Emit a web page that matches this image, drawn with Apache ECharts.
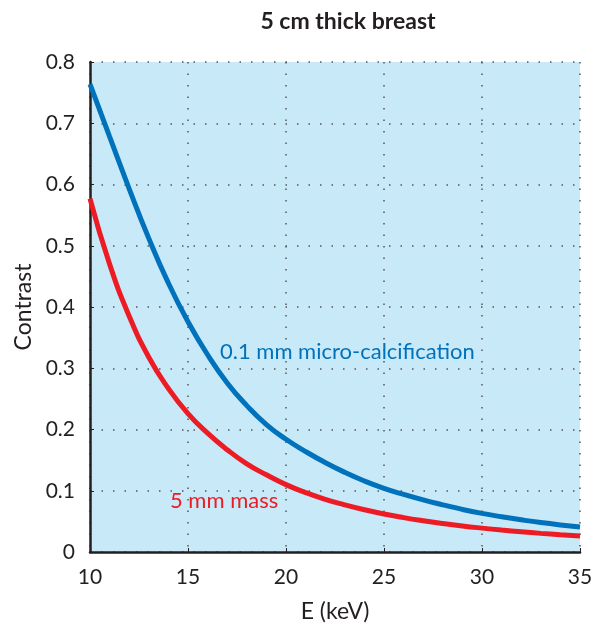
<!DOCTYPE html>
<html>
<head>
  <meta charset="utf-8">
  <title>5 cm thick breast</title>
  <script src="https://cdn.jsdelivr.net/npm/echarts@6/dist/echarts.min.js"></script>
  <style>
    body { margin: 0; padding: 0; background: #fff; }
    #main { width: 600px; height: 630px; }
  </style>
</head>
<body>
  <div id="main"></div>
  <script type="text/javascript">
    // photon energy (keV)
    var energy = [10, 11, 12, 13, 14, 15, 16, 17, 18, 19, 20, 21, 22, 23, 24, 25, 26, 27, 28, 29, 30, 31, 32, 33, 34, 35];
    // contrast
    var calcification = [0.764, 0.678, 0.593, 0.512, 0.439, 0.376, 0.322, 0.276, 0.239, 0.208, 0.184, 0.164, 0.146, 0.130, 0.116, 0.104, 0.094, 0.085, 0.077, 0.0695, 0.063, 0.0575, 0.0525, 0.048, 0.0442, 0.041];
    var mass = [0.577, 0.470, 0.385, 0.318, 0.267, 0.226, 0.194, 0.167, 0.144, 0.126, 0.110, 0.097, 0.086, 0.077, 0.069, 0.062, 0.0561, 0.051, 0.0465, 0.0425, 0.039, 0.0358, 0.033, 0.0304, 0.0281, 0.026];

    function pairs(ys) {
      var out = [];
      for (var i = 0; i < energy.length; i++) out.push([energy[i], ys[i]]);
      return out;
    }

    var font = 'Lato, "Open Sans", sans-serif';
    var ink = '#231f20';
    var chart = echarts.init(document.getElementById('main'));

    var option = {
      animation: false,
      title: {
        text: '5 cm thick breast',
        left: 343,
        top: 5,
        textAlign: 'center',
        textStyle: { fontFamily: font, fontSize: 23, fontWeight: 'bold', color: ink }
      },
      grid: {
        left: 90, right: 20, top: 62, bottom: 78,
        outerBoundsMode: 'none',
        show: true, backgroundColor: '#c7e9f8', borderWidth: 0
      },
      xAxis: {
        type: 'value',
        min: 10, max: 35, interval: 5,
        name: 'E (keV)',
        nameLocation: 'middle',
        nameGap: 48,
        nameTextStyle: { fontFamily: font, fontSize: 23, color: ink },
        axisLine: { lineStyle: { color: ink, width: 2.5 } },
        axisTick: { inside: true, length: 4, lineStyle: { color: ink } },
        axisLabel: { fontFamily: font, fontSize: 21, color: ink, margin: 15 },
        splitLine: { show: true, lineStyle: { color: '#555', type: [1.5, 10], width: 1.5 } }
      },
      yAxis: {
        type: 'value',
        min: 0, max: 0.8, interval: 0.1,
        name: 'Contrast',
        nameLocation: 'middle',
        nameGap: 55,
        nameTextStyle: { fontFamily: font, fontSize: 23, color: ink },
        axisLine: { show: true, lineStyle: { color: ink, width: 2.5 } },
        axisTick: { show: true, inside: true, length: 4, lineStyle: { color: ink } },
        axisLabel: {
          fontFamily: font, fontSize: 21, color: ink, margin: 15,
          formatter: function (v) { return String(Math.round(v * 10) / 10); }
        },
        splitLine: { show: true, lineStyle: { color: '#555', type: [1.5, 10], width: 1.5 } }
      },
      series: [{
        name: '0.1 mm micro-calcification',
        type: 'line',
        smooth: true,
        symbol: 'none',
        data: pairs(calcification),
        lineStyle: { color: '#0072bc', width: 5 },
        markPoint: {
          symbol: 'circle', symbolSize: 0,
          data: [{ coord: [16.63, 0.3275] }],
          label: {
            show: true, position: 'right', distance: 0,
            formatter: '0.1 mm micro-calcification',
            fontFamily: font, fontSize: 22, color: '#0072bc'
          }
        }
      }, {
        name: '5 mm mass',
        type: 'line',
        smooth: true,
        symbol: 'none',
        data: pairs(mass),
        lineStyle: { color: '#ed1c24', width: 5 },
        markPoint: {
          symbol: 'circle', symbolSize: 0,
          data: [{ coord: [14.08, 0.083] }],
          label: {
            show: true, position: 'right', distance: 0,
            formatter: '5 mm mass',
            fontFamily: font, fontSize: 22, color: '#ed1c24'
          }
        }
      }]
    };

    chart.setOption(option);
  </script>
</body>
</html>
